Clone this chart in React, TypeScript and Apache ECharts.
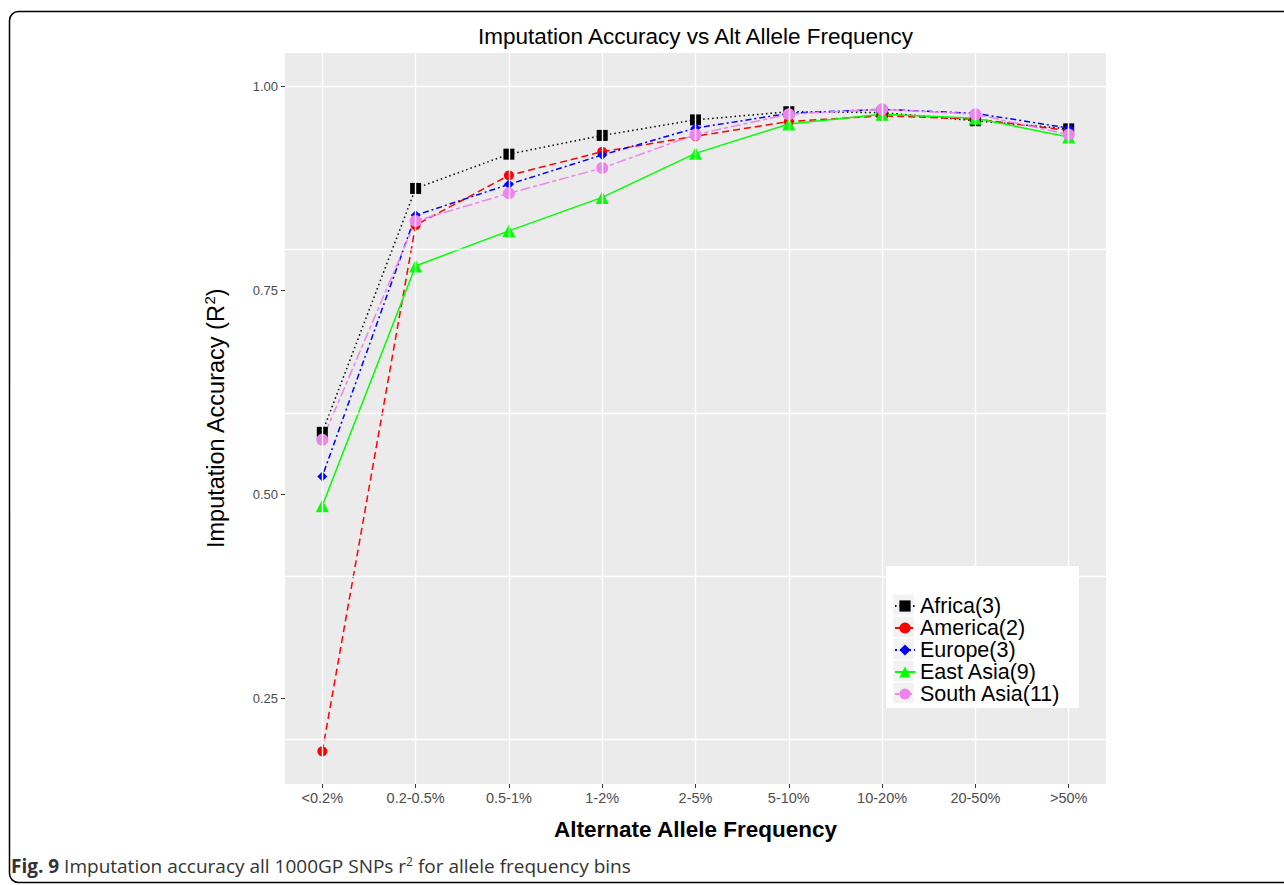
import React, { useEffect, useRef } from "react";
import * as echarts from "echarts";

const categories = ["<0.2%", "0.2-0.5%", "0.5-1%", "1-2%", "2-5%", "5-10%", "10-20%", "20-50%", ">50%"];
const africa = [0.576, 0.875, 0.917, 0.94, 0.959, 0.969, 0.968, 0.958, 0.948];
const america = [0.185, 0.83, 0.891, 0.92, 0.939, 0.957, 0.964, 0.96, 0.946];
const europe = [0.522, 0.842, 0.88, 0.916, 0.949, 0.967, 0.972, 0.967, 0.949];
const eastAsia = [0.486, 0.78, 0.823, 0.864, 0.918, 0.954, 0.966, 0.961, 0.938];
const southAsia = [0.567, 0.835, 0.869, 0.9, 0.941, 0.966, 0.972, 0.966, 0.941];
const yTickValues = [0.25, 0.5, 0.75, 1.0];
const yGridValues = [0.2, 0.4, 0.6, 0.8, 1.0];
const seriesNames = ["Africa(3)", "America(2)", "Europe(3)", "East Asia(9)", "South Asia(11)"];

const FONT = "Liberation Sans, Arial, Helvetica, sans-serif";
const CAPFONT = "Open Sans, Noto Sans, sans-serif";

export default function App() {
  const ref = useRef<HTMLDivElement>(null);
  useEffect(() => {
    if (!ref.current) return;
    const chart = echarts.init(ref.current, undefined, { renderer: "svg" });
    const xIdx = categories.map((_, i) => i);
    const toPairs = (arr: number[]) => arr.map((v, i) => [i, v]);
    const mk = (
      name: string,
      data: number[],
      color: string,
      dash: number[] | "solid",
      symbol: string,
      size: number
    ) => ({
      name,
      type: "line",
      data: toPairs(data),
      symbol,
      symbolSize: size,
      showAllSymbol: true,
      lineStyle: { color, width: 1.5, type: dash },
      itemStyle: { color, borderWidth: 0 },
      z: 3,
    });
    const option: any = {
      animation: false,
      backgroundColor: "#ffffff",
      textStyle: { fontFamily: FONT },
      grid: { left: 285, top: 53, width: 821, height: 731, show: true, backgroundColor: "#EBEBEB", borderWidth: 0 },
      xAxis: {
        type: "value",
        min: -0.4,
        max: 8.4,
        name: "Alternate Allele Frequency",
        nameLocation: "middle",
        nameGap: 34,
        nameTextStyle: { fontSize: 22.5, fontWeight: "bold", color: "#000", fontFamily: FONT },
        axisLine: { show: false, onZero: false },
        axisTick: { show: true, customValues: xIdx, length: 4, lineStyle: { color: "#333333", width: 1 } },
        axisLabel: {
          customValues: xIdx,
          formatter: (v: number) => categories[Math.round(v)] ?? "",
          fontSize: 14.5,
          color: "#4D4D4D",
          margin: 6,
          fontFamily: FONT,
        },
        splitLine: { show: false },
      },
      yAxis: {
        type: "value",
        min: 0.145,
        max: 1.041,
        name: "Imputation Accuracy (R{sup|2})",
        nameLocation: "middle",
        nameGap: 56,
        nameRotate: 90,
        nameTextStyle: {
          fontSize: 23.5,
          color: "#000",
          fontFamily: FONT,
          rich: { sup: { fontSize: 15, verticalAlign: "top", padding: [0, 0, 12, 0], color: "#000", fontFamily: FONT } },
        },
        axisLine: { show: false, onZero: false },
        axisTick: { show: true, customValues: yTickValues, length: 4, lineStyle: { color: "#333333", width: 1 } },
        axisLabel: {
          customValues: yTickValues,
          formatter: (v: number) => v.toFixed(2),
          fontSize: 13,
          color: "#4D4D4D",
          margin: 7,
          fontFamily: FONT,
        },
        splitLine: { show: false },
      },
      legend: {
        orient: "vertical",
        left: 886,
        top: 566,
        padding: [29, 7, 7, 8],
        itemWidth: 20,
        itemHeight: 14,
        itemGap: 0,
        data: seriesNames,
        textStyle: { fontSize: 21.5, color: "#000", fontFamily: FONT, lineHeight: 21.5 },
        backgroundColor: "rgba(0,0,0,0)",
        z: 10,
      },
      graphic: [
        {
          type: "rect",
          shape: { x: 9.5, y: 11.5, width: 1300, height: 871, r: 9 },
          style: { fill: "none", stroke: "#000", lineWidth: 1.5 },
          silent: true,
          z: 0,
        },
        {
          type: "rect",
          shape: { x: 886, y: 566, width: 193, height: 142 },
          style: { fill: "#ffffff" },
          silent: true,
          z: 5,
        },
        ...seriesNames.map((_, i) => ({
          type: "rect",
          shape: { x: 893, y: 594.5 + i * 22, width: 21, height: 21 },
          style: { fill: "#F2F2F2", stroke: "#ffffff", lineWidth: 0.5 },
          silent: true,
          z: 6,
        })),
        {
          type: "text",
          x: 695.5,
          y: 36,
          style: {
            text: "Imputation Accuracy vs Alt Allele Frequency",
            fontSize: 22.5,
            fill: "#000",
            fontFamily: FONT,
            textAlign: "center",
            textVerticalAlign: "middle",
          },
        },
        {
          type: "text",
          x: 11,
          y: 866,
          style: {
            text: "{b|Fig. 9} Imputation accuracy all 1000GP SNPs r{sup|2} for allele frequency bins",
            fontSize: 19,
            fill: "#333333",
            fontFamily: CAPFONT,
            textVerticalAlign: "middle",
            rich: {
              b: { fontWeight: "bold", fontSize: 19, fill: "#333333", fontFamily: CAPFONT },
              sup: { fontSize: 12, verticalAlign: "top", padding: [0, 0, 10, 0], fill: "#333333", fontFamily: CAPFONT },
            },
          },
        },
      ],
      series: [
        {
          name: "grid",
          type: "line",
          data: [],
          silent: true,
          z: 1,
          markLine: {
            silent: true,
            symbol: "none",
            label: { show: false },
            animation: false,
            lineStyle: { color: "#ffffff", width: 1.4, type: "solid" },
            emphasis: { disabled: true },
            data: [
              ...yGridValues.map((v) => ({ yAxis: v })),
              ...xIdx.map((v) => ({ xAxis: v })),
            ],
          },
        },
        mk(seriesNames[0], africa, "#000000", [1.5, 3], "rect", 11),
        mk(seriesNames[1], america, "#FF0000", [7, 4], "circle", 10),
        mk(seriesNames[2], europe, "#0000FF", [2, 3, 6, 3], "diamond", 10),
        mk(seriesNames[3], eastAsia, "#00FF00", "solid", "triangle", 13),
        mk(seriesNames[4], southAsia, "#EE82EE", [4, 3, 10, 3], "circle", 12),
      ],
    };
    chart.setOption(option);
    return () => chart.dispose();
  }, []);
  return (
    <div
      ref={ref}
      style={{ position: "fixed", left: 0, top: 0, width: 1284, height: 885 }}
    />
  );
}
